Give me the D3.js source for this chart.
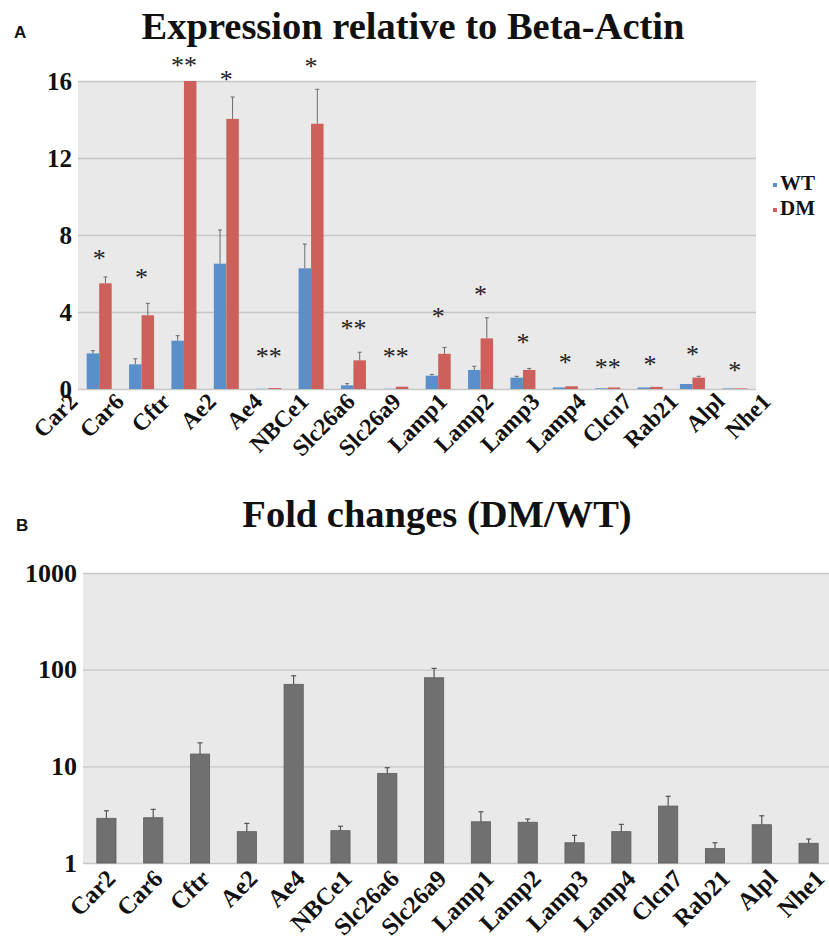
<!DOCTYPE html>
<html>
<head>
<meta charset="utf-8">
<script src="https://cdn.jsdelivr.net/npm/d3@7"></script>
<style>
  html, body { margin: 0; padding: 0; background: #fff; }
  svg { display: block; }
</style>
</head>
<body>
<svg id="chart"></svg>
<script>
// Gene list shared by both panels
const genes = ['Car2', 'Car6', 'Cftr', 'Ae2', 'Ae4', 'NBCe1', 'Slc26a6', 'Slc26a9',
  'Lamp1', 'Lamp2', 'Lamp3', 'Lamp4', 'Clcn7', 'Rab21', 'Alpl', 'Nhe1'];

// Panel A: expression relative to beta-actin (mean, upper error)
const wtMean = [1.85, 1.28, 2.51, 6.51, 0.01, 6.27, 0.19, 0.01, 0.69, 0.99, 0.59, 0.08, 0.04, 0.08, 0.26, 0.03];
const wtErr  = [0.14, 0.29, 0.26, 1.75, 0.00, 1.26, 0.09, 0.00, 0.07, 0.19, 0.07, 0.01, 0.01, 0.01, 0.04, 0.00];
const dmMean = [5.49, 3.83, 33.6, 14.03, 0.05, 13.78, 1.49, 0.12, 1.83, 2.63, 0.99, 0.14, 0.08, 0.11, 0.59, 0.03];
const dmErr  = [0.33, 0.62, 4.0, 1.14, 0.01, 1.79, 0.42, 0.04, 0.33, 1.07, 0.08, 0.02, 0.01, 0.01, 0.07, 0.00];
// significance marks and the height (in data units) where they sit
const sigMarks = ['*', '*', '**', '*', '**', '*', '**', '**', '*', '*', '*', '*', '**', '*', '*', '*'];
const sigAt    = [6.96, 5.97, 16.99, 16.26, 1.87, 16.94, 3.32, 1.87, 3.95, 5.09, 2.60, 1.56, 1.30, 1.45, 1.97, 1.14];
const aTicks = [0, 4, 8, 12, 16];

// Panel B: fold change DM/WT (log scale)
const foldMean = [2.90, 2.94, 13.4, 2.11, 70.5, 2.16, 8.46, 82.5, 2.67, 2.64, 1.62, 2.11, 3.88, 1.41, 2.49, 1.60];
const foldErr  = [0.57, 0.65, 4.1, 0.46, 16.0, 0.24, 1.22, 20.5, 0.72, 0.21, 0.31, 0.40, 1.02, 0.21, 0.59, 0.17];
const bTicks = [1, 10, 100, 1000];

const W = 829, H = 944;
const SERIF = 'Liberation Serif';
const SANS = 'Liberation Sans';
const wtColor = '#5b8fc9', dmColor = '#cd605b', foldColor = '#707070';
const bg = '#e9e9e9', gridColor = '#c6c6c6';

const svg = d3.select('#chart')
  .attr('width', W)
  .attr('height', H)
  .attr('viewBox', `0 0 ${W} ${H}`);

// helper: bold serif text
function serifText(sel, size) {
  return sel.attr('font-family', SERIF).attr('font-weight', 'bold')
    .attr('font-size', size).attr('fill', '#111');
}

// rotated category labels: each label sits in its own rotated group
function rotatedLabels(xOf, y, size) {
  const g = svg.append('g');
  genes.forEach(d => {
    const t = g.append('g')
      .attr('transform', `translate(${xOf(d)},${y}) rotate(-45)`)
      .append('text')
      .attr('x', 0).attr('y', 0)
      .attr('text-anchor', 'end')
      .text(d);
    serifText(t, size);
  });
}

// ---------- Panel A ----------
const A = { left: 78, right: 756, top: 81, bottom: 389 };

const xA = d3.scaleBand().domain(genes).range([A.left, A.right])
  .paddingInner(0.41).paddingOuter(0.205);
const xSub = d3.scaleBand().domain(['WT', 'DM']).range([0, xA.bandwidth()]);
const yA = d3.scaleLinear().domain([0, 16]).range([A.bottom, A.top]).clamp(true);
// the category labels under panel A are spread a little wider than the bars
const xLabA = d3.scalePoint().domain(genes).range([79, 772]);

svg.append('rect')
  .attr('x', A.left).attr('y', A.top)
  .attr('width', A.right - A.left).attr('height', A.bottom - A.top)
  .attr('fill', bg);

// gridlines
svg.append('g')
  .attr('transform', `translate(${A.left},0)`)
  .call(d3.axisLeft(yA).tickValues(aTicks).tickSize(-(A.right - A.left)).tickFormat(''))
  .call(g => g.select('.domain').remove())
  .call(g => g.selectAll('line').attr('stroke', gridColor).attr('stroke-width', 1.3));

// y tick labels
svg.append('g')
  .attr('transform', `translate(${A.left},0)`)
  .call(d3.axisLeft(yA).tickValues(aTicks).tickSize(0).tickPadding(6))
  .call(g => g.select('.domain').remove())
  .call(g => g.attr('font-family', SERIF).attr('font-size', 25))
  .call(g => serifText(g.selectAll('text'), 25));

const seriesA = [
  { key: 'WT', mean: wtMean, err: wtErr, color: wtColor },
  { key: 'DM', mean: dmMean, err: dmErr, color: dmColor }
];

seriesA.forEach(s => {
  const bx = (i) => xA(genes[i]) + xSub(s.key);
  svg.append('g').selectAll('rect')
    .data(genes)
    .join('rect')
    .attr('x', (d, i) => bx(i))
    .attr('y', (d, i) => yA(s.mean[i]))
    .attr('width', xSub.bandwidth())
    .attr('height', (d, i) => A.bottom - yA(s.mean[i]))
    .attr('fill', s.color);

  // upward error bars (skip bars clipped at the top)
  const eb = svg.append('g').attr('stroke', '#6b6b6b').attr('stroke-width', 1);
  genes.forEach((d, i) => {
    if (s.err[i] <= 0 || s.mean[i] >= 16) return;
    const cx = bx(i) + xSub.bandwidth() / 2;
    const y0 = yA(s.mean[i]), y1 = yA(s.mean[i] + s.err[i]);
    if (y0 - y1 < 1) return;
    eb.append('line').attr('x1', cx).attr('x2', cx).attr('y1', y0).attr('y2', y1);
    eb.append('line').attr('x1', cx - 2).attr('x2', cx + 2).attr('y1', y1).attr('y2', y1);
  });
});

// significance stars
const starSize = 26;
const yStar = yA.copy().clamp(false);
svg.append('g').selectAll('text')
  .data(genes)
  .join('text')
  .attr('font-family', SERIF)
  .attr('x', d => xA(d) + xA.bandwidth() / 2)
  .attr('y', (d, i) => yStar(sigAt[i]) + starSize * 0.47)
  .attr('text-anchor', 'middle')
  .attr('font-size', starSize)
  .attr('fill', '#222')
  .text((d, i) => sigMarks[i]);

rotatedLabels(xLabA, A.bottom + 14, 23.5);

// title + panel letter
serifText(svg.append('text'), 38.5)
  .attr('x', 413).attr('y', 39)
  .attr('text-anchor', 'middle')
  .text('Expression relative to Beta-Actin');

svg.append('text')
  .attr('font-family', SANS)
  .attr('x', 14).attr('y', 38)
  .attr('font-weight', 'bold')
  .attr('font-size', 17).attr('fill', '#111')
  .text('A');

// legend
const legend = svg.append('g');
seriesA.forEach((s, i) => {
  legend.append('rect')
    .attr('x', 773).attr('y', 183 + i * 25)
    .attr('width', 4).attr('height', 4)
    .attr('fill', s.color);
  serifText(legend.append('text'), 21)
    .attr('x', 780).attr('y', 190 + i * 25)
    .text(s.key);
});

// ---------- Panel B ----------
const B = { left: 83, right: 832, top: 573, bottom: 863 };

const xB = d3.scaleBand().domain(genes).range([B.left, B.right])
  .paddingInner(0.59).paddingOuter(0.295);
const yB = d3.scaleLog().domain([1, 1000]).range([B.bottom, B.top]);
const xLabB = d3.scalePoint().domain(genes).range([117, 826]);

svg.append('rect')
  .attr('x', B.left).attr('y', B.top)
  .attr('width', B.right - B.left).attr('height', B.bottom - B.top)
  .attr('fill', bg);

svg.append('g')
  .attr('transform', `translate(${B.left},0)`)
  .call(d3.axisLeft(yB).tickValues(bTicks).tickSize(-(B.right - B.left)).tickFormat(''))
  .call(g => g.select('.domain').remove())
  .call(g => g.selectAll('line').attr('stroke', gridColor).attr('stroke-width', 1.3));

svg.append('g')
  .attr('transform', `translate(${B.left},0)`)
  .call(d3.axisLeft(yB).tickValues(bTicks).tickSize(0).tickPadding(6).tickFormat(d3.format('d')))
  .call(g => g.select('.domain').remove())
  .call(g => g.attr('font-family', SERIF).attr('font-size', 26))
  .call(g => serifText(g.selectAll('text'), 26));

svg.append('g').selectAll('rect')
  .data(genes)
  .join('rect')
  .attr('x', d => xB(d))
  .attr('y', (d, i) => yB(foldMean[i]))
  .attr('width', xB.bandwidth())
  .attr('height', (d, i) => B.bottom - yB(foldMean[i]))
  .attr('fill', foldColor)
  .attr('stroke', '#5e5e5e')
  .attr('stroke-width', 0.8);

const ebB = svg.append('g').attr('stroke', '#555').attr('stroke-width', 1.2);
genes.forEach((d, i) => {
  const cx = xB(d) + xB.bandwidth() / 2;
  const y0 = yB(foldMean[i]), y1 = yB(foldMean[i] + foldErr[i]);
  ebB.append('line').attr('x1', cx).attr('x2', cx).attr('y1', y0).attr('y2', y1);
  ebB.append('line').attr('x1', cx - 2.5).attr('x2', cx + 2.5).attr('y1', y1).attr('y2', y1);
});

rotatedLabels(xLabB, B.bottom + 17, 24.5);

serifText(svg.append('text'), 38.5)
  .attr('x', 437).attr('y', 527)
  .attr('text-anchor', 'middle')
  .text('Fold changes (DM/WT)');

svg.append('text')
  .attr('font-family', SANS)
  .attr('x', 16).attr('y', 531)
  .attr('font-weight', 'bold')
  .attr('font-size', 17).attr('fill', '#111')
  .text('B');
</script>
</body>
</html>
